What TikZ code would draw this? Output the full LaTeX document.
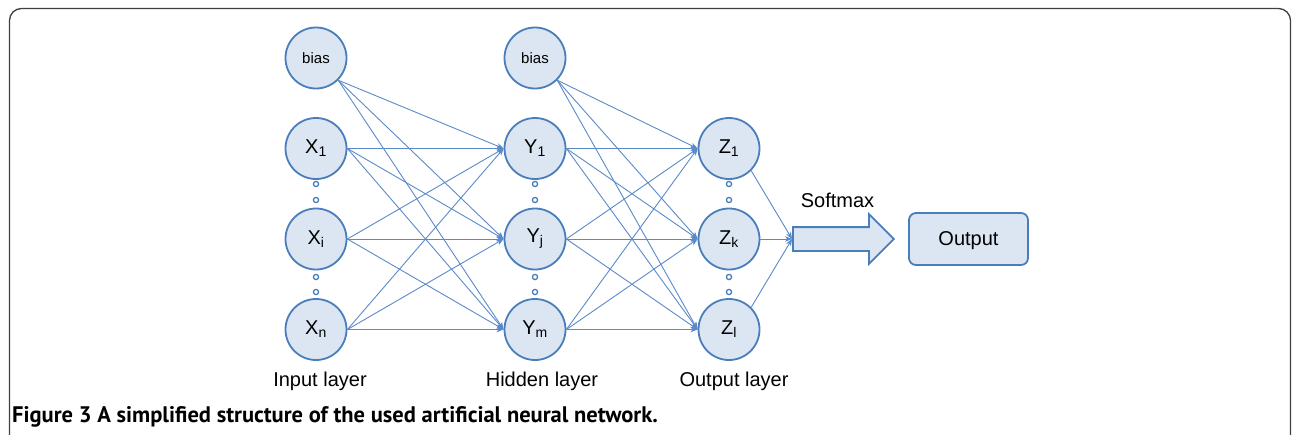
\documentclass[tikz,border=0pt]{standalone}
\usepackage{fontspec}
\setmainfont{Liberation Sans}
\newfontfamily\capfont{PT Sans}
\usetikzlibrary{arrows.meta,shapes.arrows}
\definecolor{nodeblue}{HTML}{4A7EBB}
\definecolor{nodefill}{HTML}{DCE6F2}
\definecolor{edgeblue}{HTML}{5B8AC8}

\begin{document}
\begin{tikzpicture}[x=1pt, y=1pt, node distance={90.5pt},
    main/.style = {draw=nodeblue, fill=nodefill, line width=1.8pt, circle, minimum size=61pt, inner sep=0pt, font=\fontsize{20}{20}\selectfont},
    biasnode/.style = {main, font=\fontsize{15}{15}\selectfont},
    link/.style = {draw=edgeblue, line width=0.9pt, -{Stealth[length=7pt,width=5.5pt,inset=2pt]}},
    dotmark/.style = {draw=nodeblue, fill=white, line width=1.3pt},
    bigarrow/.style = {draw=nodeblue, fill=nodefill, line width=1.8pt, single arrow, single arrow head extend=13pt, minimum height=101pt, minimum width=0pt, inner sep=11pt},
    outbox/.style = {draw=nodeblue, fill=nodefill, line width=1.8pt, rounded corners=7pt, minimum width=119pt, minimum height=52pt, text depth=1pt, font=\fontsize{20}{20}\selectfont},
    lbl/.style = {font=\fontsize{20}{20}\selectfont}]
    \useasboundingbox (0,0) rectangle (1292,-434);
    % frame
    \draw[line width=1.3pt, draw=black!75, rounded corners=12pt] (9.5,-440) -- (9.5,-8.5) -- (1290.5,-8.5) -- (1290.5,-440);

    % input layer
    \node[biasnode] (b1) at (316,-58) {bias};
    \node[main] (x1) [below of=b1] {X\textsubscript{1}};
    \node[main] (xi) [below of=x1] {X\textsubscript{i}};
    \node[main] (xn) [below of=xi] {X\textsubscript{n}};

    % hidden layer
    \node[biasnode] (b2) [right of=b1, node distance=219pt] {bias};
    \node[main] (y1) [right of=x1, node distance=219pt] {Y\textsubscript{1}};
    \node[main] (yj) [right of=xi, node distance=219pt] {Y\textsubscript{j}};
    \node[main] (ym) [right of=xn, node distance=219pt] {Y\textsubscript{m}};

    % output layer
    \node[main] (z1) [right of=y1, node distance=194pt] {Z\textsubscript{1}};
    \node[main] (zk) [right of=yj, node distance=194pt] {Z\textsubscript{k}};
    \node[main] (zl) [right of=ym, node distance=194pt] {Z\textsubscript{l}};

    \node[bigarrow] (smax) at (837.5,-239) {};
    \node[lbl] (smlabel) [above of=smax, node distance=39pt] {Softmax};
    \node[outbox] (out) at (968.5,-239) {Output};

    \node[lbl] (inlabel) at (320,-381) {Input layer};
    \node[lbl] (hidlabel) at (542,-381) {Hidden layer};
    \node[lbl] (outlabel) at (734,-381) {Output layer};

    % dots between neurons
    \foreach \x in {316,535,729}
        \foreach \y in {184,200,277,292}
            \draw[dotmark] (\x,-\y) circle (2.6);

    % connections
    \foreach \t in {y1,yj,ym} {
        \draw[link] (b1.south east) -- (\t.west);
        \foreach \s in {x1,xi,xn}
            \draw[link] (\s.east) -- (\t.west);
    }
    \foreach \t in {z1,zk,zl} {
        \draw[link] (b2.south east) -- (\t.west);
        \foreach \s in {y1,yj,ym}
            \draw[link] (\s.east) -- (\t.west);
    }
    \draw[link] (z1.south east) -- (smax.west);
    \draw[link] (zk.east) -- (smax.west);
    \draw[link] (zl.north east) -- (smax.west);

    \node[anchor=base west, inner sep=0pt, font=\capfont\bfseries\fontsize{22.5}{22.5}\selectfont] (caption) at (12,-422) {Figure 3 A simplified structure of the used artificial neural network.};
\end{tikzpicture}
\end{document}
